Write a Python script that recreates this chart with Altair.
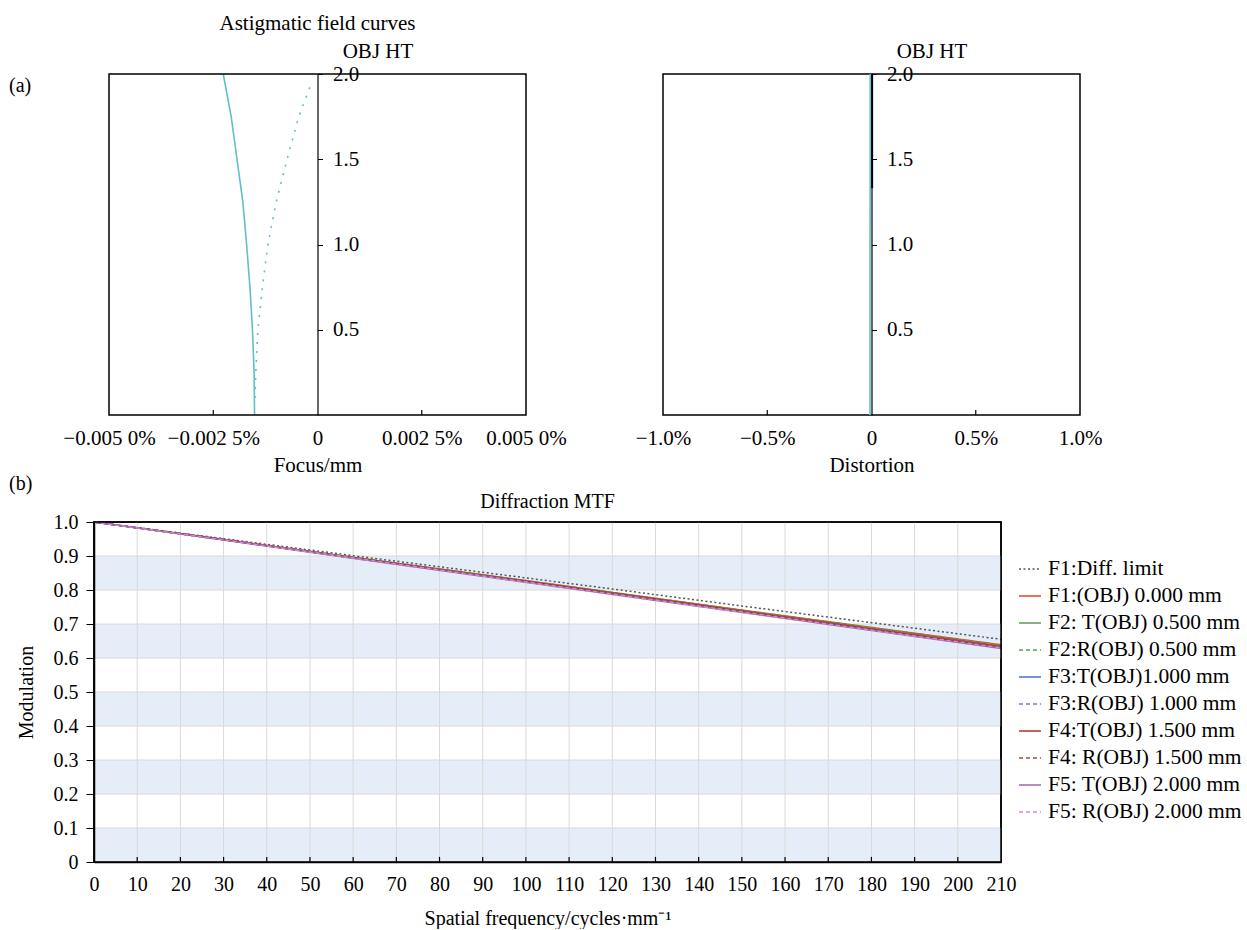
import altair as alt
import pandas as pd

FONT = "Liberation Serif"
FS = 20
FS_TOP = 21
CYAN = "#5fbfcc"

# ---------------- (a) astigmatic field curves ----------------
astig_t_h = [0.0, 0.25, 0.5, 0.75, 1.0, 1.25, 1.5, 1.75, 2.0]
astig_t_x = [-0.00151, -0.00152, -0.00156, -0.00162, -0.00170, -0.00179, -0.00193, -0.00207, -0.00226]
astig_s_h = [0.1, 0.25, 0.5, 0.75, 1.0, 1.25, 1.5, 1.75, 1.95]
astig_s_x = [-0.00150, -0.00148, -0.00143, -0.00132, -0.00119, -0.00099, -0.00073, -0.00045, -0.00014]
astig_domain = [-0.005, 0.005]
astig_tick_values = [-0.005, -0.0025, 0, 0.0025, 0.005]
astig_tick_labels = ["\u22120.005 0%", "\u22120.002 5%", "0", "0.002 5%", "0.005 0%"]
astig_inner_ticks = [-0.0025, 0.0025]

# ---------------- distortion ----------------
dist_c_h = [0.0, 0.5, 1.0, 1.5, 2.0]
dist_c_x = [-0.007, -0.007, -0.007, -0.006, -0.006]
dist_k_h = [1.33, 1.67, 2.0]
dist_k_x = [0.003, 0.003, 0.003]
dist_domain = [-1.0, 1.0]
dist_tick_values = [-1.0, -0.5, 0, 0.5, 1.0]
dist_tick_labels = ["\u22121.0%", "\u22120.5%", "0", "0.5%", "1.0%"]
dist_inner_ticks = [-0.5, 0.5]

obj_ht_values = [0.5, 1.0, 1.5, 2.0]
height_domain = [0, 2]

# ---------------- (b) MTF ----------------
freq = [0, 30, 60, 90, 120, 150, 180, 210]
series_names = [
    "F1:Diff. limit",
    "F1:(OBJ) 0.000 mm",
    "F2: T(OBJ) 0.500 mm",
    "F2:R(OBJ) 0.500 mm",
    "F3:T(OBJ)1.000 mm",
    "F3:R(OBJ) 1.000 mm",
    "F4:T(OBJ) 1.500 mm",
    "F4: R(OBJ) 1.500 mm",
    "F5: T(OBJ) 2.000 mm",
    "F5: R(OBJ) 2.000 mm",
]
series_values = [
    [1.000, 0.951, 0.901, 0.852, 0.803, 0.753, 0.704, 0.655],
    [1.000, 0.949, 0.896, 0.845, 0.793, 0.741, 0.690, 0.639],
    [1.000, 0.948, 0.896, 0.844, 0.792, 0.740, 0.688, 0.636],
    [1.000, 0.948, 0.896, 0.844, 0.793, 0.740, 0.689, 0.637],
    [1.000, 0.948, 0.894, 0.842, 0.790, 0.737, 0.684, 0.632],
    [1.000, 0.948, 0.895, 0.843, 0.791, 0.738, 0.686, 0.634],
    [1.000, 0.948, 0.895, 0.843, 0.791, 0.738, 0.685, 0.633],
    [1.000, 0.948, 0.895, 0.843, 0.791, 0.739, 0.687, 0.635],
    [1.000, 0.947, 0.893, 0.840, 0.787, 0.734, 0.681, 0.628],
    [1.000, 0.947, 0.894, 0.841, 0.788, 0.735, 0.682, 0.630],
]
series_colors = ["#555555", "#e2452f", "#5aa050", "#5aa050", "#4a6cc8", "#6a7ed0",
                 "#a83232", "#b04a3a", "#a064b4", "#d08ad0"]
series_dashes = [[2, 2.5], [1, 0], [1, 0], [4, 3], [1, 0], [4, 3], [1, 0], [4, 3], [1, 0], [4, 3]]
mtf_x_ticks = list(range(0, 211, 10))
mtf_inner_ticks = list(range(10, 201, 10))
mtf_y_ticks = [0.0, 0.1, 0.2, 0.3, 0.4, 0.5, 0.6, 0.7, 0.8, 0.9, 1.0]
mtf_grid_y = [0.1, 0.2, 0.3, 0.4, 0.5, 0.6, 0.7, 0.8, 0.9]
band_lo = [0.0, 0.2, 0.4, 0.6, 0.8]
band_hi = [0.1, 0.3, 0.5, 0.7, 0.9]
mtf_freq_domain = [0, 210]
mtf_domain = [0, 1]


def label_expr(values, labels, mult):
    parts = [f"round(datum.value*{mult}) === {round(v * mult)} ? '{l}'" for v, l in zip(values, labels)]
    return " : ".join(parts) + " : ''"


def height_axis(width_half):
    return alt.Axis(orient="right", offset=-width_half, values=obj_ht_values, format=".1f",
                    tickSize=5, labelPadding=10, grid=False, labelOverlap=False,
                    labelFontSize=FS_TOP, titleFontSize=FS_TOP,
                    title="OBJ HT", titleAngle=0,
                    titleX=60, titleY=-23, titleAlign="center", titleBaseline="middle",
                    domainWidth=1.2)


def bottom_axis(values, expr, mult):
    return alt.Axis(values=values, labelExpr=label_expr(values, expr, mult),
                    ticks=False, tickSize=0, domain=False, grid=False,
                    labelOverlap=False, labelFlush=False,
                    labelFontSize=FS_TOP, titleFontSize=FS_TOP,
                    labelPadding=12, titlePadding=6)


def panel_label(text, px, py):
    return alt.Chart(pd.DataFrame({"t": [text]})).mark_text(
        align="left", baseline="middle", font=FONT, fontSize=FS, color="black").encode(
        text="t:N", x=alt.value(px), y=alt.value(py))


# ---- astig panel (plot box drawn at x range 15..432 inside a 432-wide group) ----
A_W, A_H = 432, 341
A_OFF = 15
a_t = pd.DataFrame({"h": astig_t_h, "x": astig_t_x})
a_s = pd.DataFrame({"h": astig_s_h, "x": astig_s_x})
a_frame = pd.DataFrame({"x": [astig_domain[0]], "x1": [astig_domain[1]],
                        "h": [height_domain[0]], "h1": [height_domain[1]]})
a_ticks = pd.DataFrame({"x": astig_inner_ticks, "h": [0, 0], "h1": [0.03, 0.03]})

a_xscale = alt.Scale(domain=astig_domain, range=[A_OFF, A_W], nice=False)
a_yscale = alt.Scale(domain=height_domain, nice=False)

a_curve_t = alt.Chart(a_t).mark_line(color=CYAN, strokeWidth=1.6).encode(
    x=alt.X("x:Q", scale=a_xscale, title="Focus/mm",
            axis=bottom_axis(astig_tick_values, astig_tick_labels, 10000)),
    y=alt.Y("h:Q", scale=a_yscale, axis=height_axis((A_W - A_OFF) / 2)),
    order="h:Q",
)
a_curve_s = alt.Chart(a_s).mark_line(color=CYAN, strokeWidth=1.6, strokeDash=[2, 7]).encode(
    x="x:Q", y="h:Q", order="h:Q")
a_box = alt.Chart(a_frame).mark_rect(fill="transparent", stroke="black", strokeWidth=1.5).encode(
    x="x:Q", x2="x1:Q", y="h:Q", y2="h1:Q")
a_tk = alt.Chart(a_ticks).mark_rule(color="black", strokeWidth=1.2).encode(
    x="x:Q", y="h:Q", y2="h1:Q")

astig = alt.layer(a_curve_t, a_curve_s, a_box, a_tk, panel_label("(a)", -85, 12)).properties(
    width=A_W, height=A_H,
    view=alt.ViewBackground(stroke="transparent"),
    title=alt.TitleParams("Astigmatic field curves", anchor="middle", frame="group",
                          dx=(A_OFF) / 2, offset=6, fontSize=FS_TOP))

# ---- distortion panel ----
D_W, D_H = 417, 341
d_c = pd.DataFrame({"h": dist_c_h, "x": dist_c_x})
d_k = pd.DataFrame({"h": dist_k_h, "x": dist_k_x})
d_ticks = pd.DataFrame({"x": dist_inner_ticks, "h": [0, 0], "h1": [0.03, 0.03]})
d_curve = alt.Chart(d_c).mark_line(color=CYAN, strokeWidth=1.6).encode(
    x=alt.X("x:Q", scale=alt.Scale(domain=dist_domain, nice=False), title="Distortion",
            axis=bottom_axis(dist_tick_values, dist_tick_labels, 10)),
    y=alt.Y("h:Q", scale=alt.Scale(domain=height_domain, nice=False), axis=height_axis(D_W / 2)),
    order="h:Q",
)
d_black = alt.Chart(d_k).mark_line(color="black", strokeWidth=2).encode(
    x="x:Q", y="h:Q", order="h:Q")
d_tk = alt.Chart(d_ticks).mark_rule(color="black", strokeWidth=1.2).encode(
    x="x:Q", y="h:Q", y2="h1:Q")
dist = alt.layer(d_curve, d_black, d_tk).properties(width=D_W, height=D_H)

# ---- MTF panel ----
M_W, M_H = 907, 340
rows = []
for name, vals in zip(series_names, series_values):
    for f, v in zip(freq, vals):
        rows.append({"freq": f, "mtf": v, "series": name})
mtf_df = pd.DataFrame(rows)
bands = pd.DataFrame({"mtf": band_lo, "hi": band_hi,
                      "freq": [mtf_freq_domain[0]] * len(band_lo),
                      "f1": [mtf_freq_domain[1]] * len(band_lo)})
m_frame_df = pd.DataFrame({"freq": [mtf_freq_domain[0]], "f1": [mtf_freq_domain[1]],
                           "mtf": [mtf_domain[0]], "m1": [mtf_domain[1]]})


def mtf_x():
    return alt.X("freq:Q", scale=alt.Scale(domain=mtf_freq_domain, nice=False),
                 title="Spatial frequency/cycles\u00b7mm\u207b\u00b9",
                 axis=alt.Axis(values=mtf_x_ticks, format="d", ticks=False, tickSize=0, grid=False,
                               labelOverlap=False, labelFlush=False, zindex=1,
                               labelPadding=12, titlePadding=14, domainWidth=1.5))


def mtf_y():
    return alt.Y("mtf:Q", scale=alt.Scale(domain=mtf_domain, nice=False), title="Modulation",
                 axis=alt.Axis(values=mtf_y_ticks, tickCount=11, grid=False, tickSize=8,
                               labelPadding=8, labelOverlap=False, labelFlush=False, zindex=1,
                               labelSeparation=0,
                               labelExpr="datum.value === 0 ? '0' : format(datum.value, '.1f')",
                               titlePadding=17, domainWidth=1.5))


m_lines = alt.Chart(mtf_df).mark_line(strokeWidth=1.5).encode(
    x=mtf_x(), y=mtf_y(),
    color=alt.Color("series:N", scale=alt.Scale(domain=series_names, range=series_colors), title=None,
                    legend=alt.Legend(orient="none", legendX=924, legendY=483, labelFont=FONT,
                                      labelFontSize=21.5, labelColor="black", symbolType="stroke",
                                      symbolSize=484, symbolStrokeWidth=1.5, rowPadding=4,
                                      labelOffset=6, padding=0, labelLimit=300)),
    strokeDash=alt.StrokeDash("series:N", scale=alt.Scale(domain=series_names, range=series_dashes),
                              title=None),
    order="freq:Q",
)
m_bands = alt.Chart(bands).mark_rect(fill="#e5eef8").encode(
    x=mtf_x(), x2="f1:Q", y=mtf_y(), y2="hi:Q")
m_gx = alt.Chart(pd.DataFrame({"freq": mtf_inner_ticks})).mark_rule(color="#d9d9d9", strokeWidth=1).encode(
    x=mtf_x())
m_gy = alt.Chart(pd.DataFrame({"mtf": mtf_grid_y})).mark_rule(color="#d9d9d9", strokeWidth=1).encode(
    y=mtf_y())
m_tk = alt.Chart(pd.DataFrame({"freq": mtf_inner_ticks, "mtf": [0] * len(mtf_inner_ticks),
                               "m1": [0.015] * len(mtf_inner_ticks)})).mark_rule(
    color="black", strokeWidth=1.2).encode(x=mtf_x(), y=mtf_y(), y2="m1:Q")
m_box = alt.Chart(m_frame_df).mark_rect(fill="transparent", stroke="black", strokeWidth=1.5).encode(
    x=mtf_x(), x2="f1:Q", y=mtf_y(), y2="m1:Q")

mtf = alt.layer(m_bands, m_gx, m_gy, m_lines, m_tk, m_box,
                panel_label("(b)", -85, -38)).properties(
    width=M_W, height=M_H,
    title=alt.TitleParams("Diffraction MTF", anchor="middle", frame="group", offset=-38))

top = alt.hconcat(astig, dist, spacing=137, bounds="flush")

chart = alt.vconcat(top, mtf, spacing=448, bounds="flush").properties(
    padding={"left": 8, "top": 12, "right": 0, "bottom": 0}
).configure(font=FONT).configure_axis(
    labelFont=FONT, titleFont=FONT, labelFontSize=FS, titleFontSize=FS,
    labelColor="black", titleColor="black", titleFontWeight="normal",
    domainColor="black", tickColor="black", labelOverlap=False
).configure_view(stroke="black", strokeWidth=1.5).configure_title(
    font=FONT, fontSize=FS, fontWeight="normal", color="black"
).configure_legend(labelFont=FONT)

chart.save("out.html", embed_options={"renderer": "svg", "actions": False})
